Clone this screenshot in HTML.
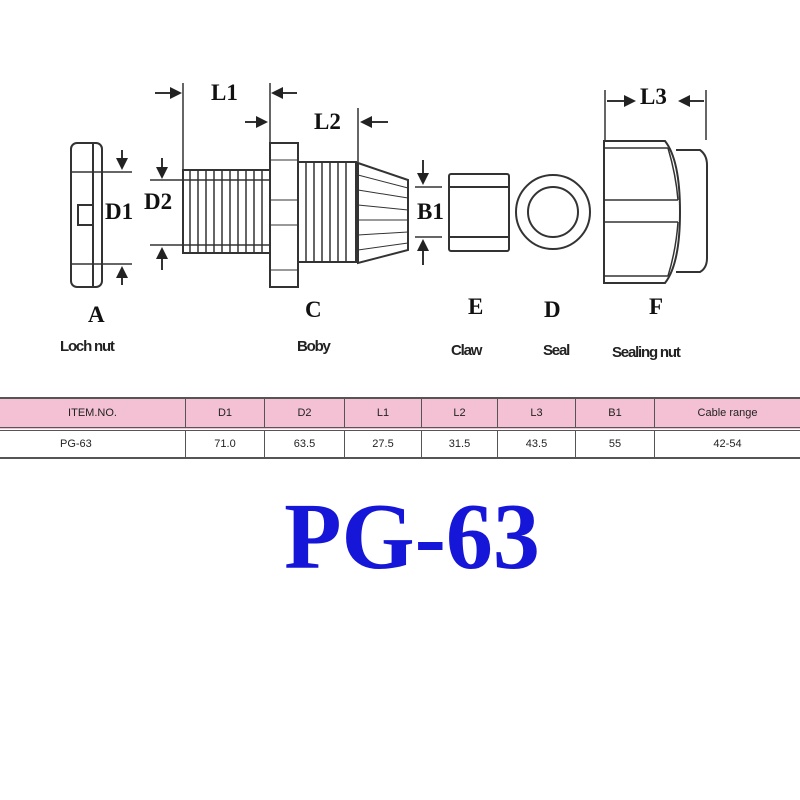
<!DOCTYPE html>
<html><head><style>
body{margin:0;background:#fff;width:800px;height:800px;overflow:hidden;position:relative;font-family:"Liberation Sans",sans-serif}
.t{position:absolute;font-family:"Liberation Serif",serif;font-weight:bold;font-size:23px;color:#111}
.s{position:absolute;font-weight:bold;font-size:15px;color:#222;letter-spacing:-1.2px}
table{position:absolute;left:0;top:397px;width:800px;border-collapse:collapse;font-size:11px;color:#222}
td{text-align:center;border-left:1px solid #555;padding:0}
</style></head><body>
<svg width="800" height="390" style="position:absolute;left:0;top:0" fill="none" stroke="#333" stroke-width="2">
<defs><marker id="a" markerWidth="6" markerHeight="6" refX="5" refY="3" orient="auto"><path d="M0,0L6,3L0,6z" fill="#222" stroke="none"/></marker></defs>
<rect x="71" y="143" width="31" height="144" rx="6"/>
<line x1="93" y1="143" x2="93" y2="287"/>
<rect x="78" y="205" width="15" height="20"/>
<line x1="72" y1="172" x2="132" y2="172" stroke-width="1.5"/>
<line x1="72" y1="264" x2="132" y2="264" stroke-width="1.5"/>
<line x1="122" y1="150" x2="122" y2="168" marker-end="url(#a)"/>
<line x1="122" y1="285" x2="122" y2="268" marker-end="url(#a)"/>
<line x1="150" y1="180" x2="183" y2="180" stroke-width="1.5"/>
<line x1="150" y1="245" x2="183" y2="245" stroke-width="1.5"/>
<line x1="162" y1="158" x2="162" y2="177" marker-end="url(#a)"/>
<line x1="162" y1="270" x2="162" y2="249" marker-end="url(#a)"/>
<rect x="183" y="170" width="87" height="83"/>
<g stroke-width="1.5">
<line x1="190" y1="170" x2="190" y2="253"/><line x1="198" y1="170" x2="198" y2="253"/><line x1="206" y1="170" x2="206" y2="253"/><line x1="214" y1="170" x2="214" y2="253"/><line x1="222" y1="170" x2="222" y2="253"/><line x1="230" y1="170" x2="230" y2="253"/><line x1="238" y1="170" x2="238" y2="253"/><line x1="246" y1="170" x2="246" y2="253"/><line x1="254" y1="170" x2="254" y2="253"/><line x1="262" y1="170" x2="262" y2="253"/>
<line x1="183" y1="180" x2="270" y2="180"/><line x1="183" y1="245" x2="270" y2="245"/>
</g>
<rect x="270" y="143" width="28" height="144"/>
<line x1="270" y1="160" x2="298" y2="160" stroke-width="1"/><line x1="270" y1="200" x2="298" y2="200" stroke-width="1"/><line x1="270" y1="225" x2="298" y2="225" stroke-width="1"/><line x1="270" y1="270" x2="298" y2="270" stroke-width="1"/>
<rect x="298" y="162" width="58" height="100"/>
<g stroke-width="1.5">
<line x1="306" y1="162" x2="306" y2="262"/><line x1="314" y1="162" x2="314" y2="262"/><line x1="322" y1="162" x2="322" y2="262"/><line x1="330" y1="162" x2="330" y2="262"/><line x1="338" y1="162" x2="338" y2="262"/><line x1="346" y1="162" x2="346" y2="262"/>
</g>
<path d="M358,163L408,180L408,250L358,263Z"/>
<g stroke-width="1"><path d="M358,175L408,188M358,190L408,198M358,205L408,210M358,220L408,220M358,235L408,232M358,250L408,243"/></g>
<line x1="183" y1="83" x2="183" y2="170" stroke-width="1.5"/>
<line x1="270" y1="83" x2="270" y2="143" stroke-width="1.5"/>
<line x1="155" y1="93" x2="180" y2="93" marker-end="url(#a)"/>
<line x1="297" y1="93" x2="273" y2="93" marker-end="url(#a)"/>
<line x1="245" y1="122" x2="266" y2="122" marker-end="url(#a)"/>
<line x1="358" y1="108" x2="358" y2="162" stroke-width="1.5"/>
<line x1="388" y1="122" x2="362" y2="122" marker-end="url(#a)"/>
<line x1="415" y1="187" x2="442" y2="187" stroke-width="1.5"/>
<line x1="415" y1="237" x2="442" y2="237" stroke-width="1.5"/>
<line x1="423" y1="160" x2="423" y2="183" marker-end="url(#a)"/>
<line x1="423" y1="265" x2="423" y2="241" marker-end="url(#a)"/>
<rect x="449" y="174" width="60" height="77" rx="2"/>
<line x1="449" y1="187" x2="509" y2="187"/><line x1="449" y1="237" x2="509" y2="237"/>
<circle cx="553" cy="212" r="37"/><circle cx="553" cy="212" r="25"/>
<path d="M604,141L665,141Q680,160 680,212Q680,264 665,283L604,283Z"/>
<path d="M676,150L700,150Q707,155 707,165L707,258Q707,268 700,272L676,272"/>
<line x1="604" y1="148" x2="668" y2="148" stroke-width="1.5"/>
<line x1="604" y1="200" x2="678" y2="200" stroke-width="1.5"/>
<line x1="604" y1="222" x2="678" y2="222" stroke-width="1.5"/>
<line x1="604" y1="276" x2="668" y2="276" stroke-width="1.5"/>
<path d="M668,148Q676,175 678,200M668,276Q676,250 678,222" stroke-width="1.5"/>
<line x1="605" y1="90" x2="605" y2="141" stroke-width="1.5"/>
<line x1="706" y1="90" x2="706" y2="140" stroke-width="1.5"/>
<line x1="607" y1="101" x2="634" y2="101" marker-end="url(#a)"/>
<line x1="704" y1="101" x2="680" y2="101" marker-end="url(#a)"/>
</svg>
<div class="t" style="left:211px;top:80px">L1</div>
<div class="t" style="left:314px;top:109px">L2</div>
<div class="t" style="left:640px;top:84px">L3</div>
<div class="t" style="left:105px;top:199px">D1</div>
<div class="t" style="left:144px;top:189px">D2</div>
<div class="t" style="left:417px;top:199px">B1</div>
<div class="t" style="left:88px;top:302px">A</div>
<div class="t" style="left:305px;top:297px">C</div>
<div class="t" style="left:468px;top:294px">E</div>
<div class="t" style="left:544px;top:297px">D</div>
<div class="t" style="left:649px;top:294px">F</div>
<div class="s" style="left:60px;top:338px">Loch nut</div>
<div class="s" style="left:297px;top:338px">Boby</div>
<div class="s" style="left:451px;top:342px">Claw</div>
<div class="s" style="left:543px;top:342px">Seal</div>
<div class="s" style="left:612px;top:344px">Sealing nut</div>
<table>
<tr style="background:#f3c1d3;height:31px;border-top:2px solid #555;border-bottom:4px double #555">
<td style="border-left:none;width:185px">ITEM.NO.</td><td style="width:78px">D1</td><td style="width:79px">D2</td><td style="width:76px">L1</td><td style="width:75px">L2</td><td style="width:77px">L3</td><td style="width:78px">B1</td><td>Cable range</td></tr>
<tr style="height:29px;border-bottom:2px solid #555">
<td style="border-left:none;text-align:left;padding-left:60px">PG-63</td><td>71.0</td><td>63.5</td><td>27.5</td><td>31.5</td><td>43.5</td><td>55</td><td>42-54</td></tr>
</table>
<div style="position:absolute;left:12px;width:800px;top:487px;text-align:center;font-family:'Liberation Serif',serif;font-weight:bold;font-size:94px;color:#1616d8;line-height:100px">PG-63</div>
</body></html>
